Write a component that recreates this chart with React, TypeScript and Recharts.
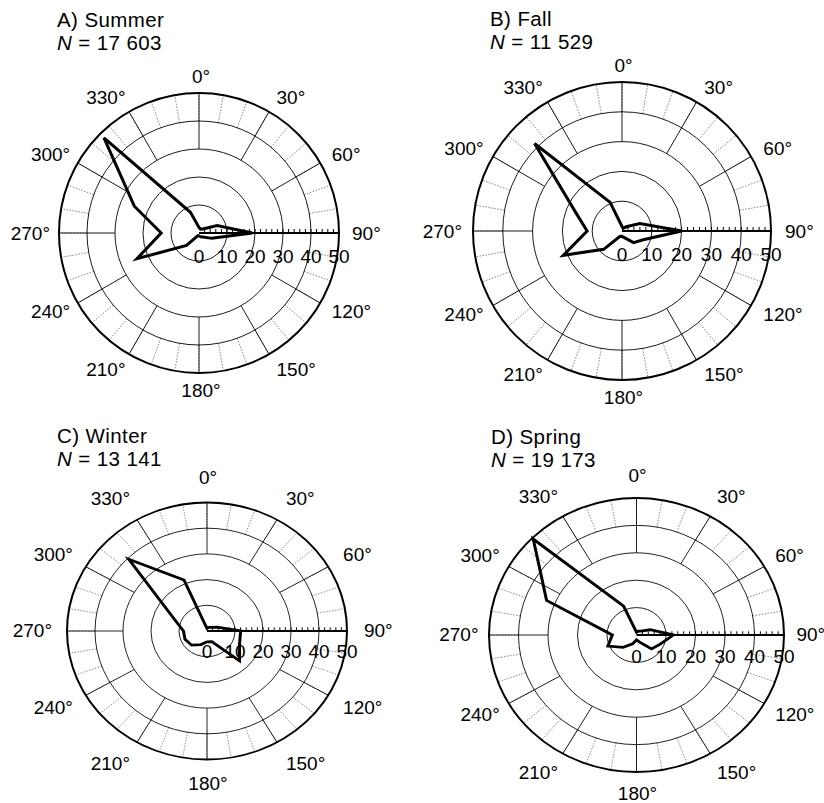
import React from 'react';
import { RadarChart, Radar, PolarGrid, PolarAngleAxis, PolarRadiusAxis } from 'recharts';

const W = 824;
const H = 803;
const CH = 920; // drawing surface height, taller than the page so squeezed panels keep their bottom labels
const FONT = '"Liberation Sans", Arial, Helvetica, sans-serif';
const FS = 19;
const TITLE_FS = 20.5;
const CAP = 0.716 * FS;

// 16 compass sectors, clockwise from north
const directions = ['N', 'NNE', 'NE', 'ENE', 'E', 'ESE', 'SE', 'SSE', 'S', 'SSW', 'SW', 'WSW', 'W', 'WNW', 'NW', 'NNW'];

// Frequency (%) per sector
const summerFreq = [2, 1.5, 2, 7, 19, 5, 2, 1.5, 1, 1, 6.3, 24, 13.5, 25, 48, 8];
const fallFreq = [1.5, 1, 2, 6.5, 20, 7.7, 5.5, 2.5, 1.8, 2, 8.7, 21.3, 11.7, 17, 41.5, 10.4];
const winterFreq = [1, 1.5, 2, 3.9, 12, 12.6, 16.4, 4.5, 4.2, 5.7, 7.8, 8.5, 8.4, 12.9, 39.5, 21.5];
const springFreq = [1, 1.5, 2, 5, 12.5, 8.7, 7.2, 2.8, 1.8, 3.5, 6.4, 10.5, 8.2, 33, 49.5, 11.4];

const seasonTitles = ['A) Summer', 'B) Fall', 'C) Winter', 'D) Spring'];
const seasonCounts = ['17 603', '11 529', '13 141', '19 173'];
const seasonFreqs = [summerFreq, fallFreq, winterFreq, springFreq];

// Angle axis labels every 30 degrees, fine grid every 10 degrees
const compassLabels = ['0°', '30°', '60°', '90°', '120°', '150°', '180°', '210°', '240°', '270°', '300°', '330°'];
const fineBearings = [0, 10, 20, 30, 40, 50, 60, 70, 80, 90, 100, 110, 120, 130, 140, 150, 160, 170,
  180, 190, 200, 210, 220, 230, 240, 250, 260, 270, 280, 290, 300, 310, 320, 330, 340, 350];

// Radial scale
const radiusMax = 50;
const ringValues = [10, 20, 30, 40];
const radiusTicks = [0, 2, 4, 6, 8, 10, 12, 14, 16, 18, 20, 22, 24, 26, 28, 30, 32, 34, 36, 38, 40, 42, 44, 46, 48, 50];

// Panel placement
const layouts = [
  { cx: 199, cy: 233, r: 140, sy: 1, gx: 11, gy: 10, ox: 2, tx: 57, ty: 27 },
  { cx: 622, cy: 231, r: 149, sy: 1, gx: 12.5, gy: 10, ox: 1.5, tx: 490, ty: 26 },
  { cx: 207, cy: 631, r: 140, sy: 0.918, gx: 16, gy: 20, ox: 1, tx: 57, ty: 443 },
  { cx: 636.5, cy: 635, r: 147.5, sy: 0.929, gx: 11.5, gy: 17, ox: 1, tx: 491, ty: 444 },
];

const NO_MARGIN = { top: 0, right: 0, bottom: 0, left: 0 };

const labelRows = compassLabels.map((label) => ({ label, zero: 0 }));
const fineRows = fineBearings.map((bearing) => ({ bearing, zero: 0 }));

type Layout = typeof layouts[number];

const makeAngleTick = (p: Layout) => (props: any) => {
  const { x, y, payload } = props;
  const dx = x - p.cx;
  const dy = y - p.cy;
  const len = Math.hypot(dx, dy) || 1;
  const ux = dx / len;
  const uy = dy / len;
  const ax = p.cx + p.ox + ux * (p.r + p.gx);
  const ay = p.cy + uy * (p.r + p.gy);
  const anchor = ux > 0.1 ? 'start' : ux < -0.1 ? 'end' : 'middle';
  const centerY = ay + (uy * CAP) / 2;
  return (
    <text x={ax} y={centerY + CAP / 2} textAnchor={anchor} fontSize={FS} fontFamily={FONT} fill="#000">
      {payload.value}
    </text>
  );
};

const RadiusTick = (props: any) => {
  const { x, y, payload } = props;
  const v = payload.value;
  return (
    <g>
      {v > 0 && v < radiusMax && <line x1={x} y1={y} x2={x} y2={y - 4} stroke="#000" strokeWidth={1} />}
      {v % 10 === 0 && (
        <text x={x} y={y + 23 + CAP / 2} textAnchor="middle" fontSize={FS} fontFamily={FONT} fill="#000">
          {v}
        </text>
      )}
    </g>
  );
};

const Layer = ({ children }: { children: React.ReactNode }) => (
  <div style={{ position: 'absolute', left: 0, top: 0, width: W, height: CH }}>{children}</div>
);

const RosePanel = ({ freq, p }: { freq: number[]; p: Layout }) => {
  const rows = directions.map((dir, i) => ({ dir, value: freq[i] }));
  const ringRadii = ringValues.map((v) => (p.r * v) / radiusMax);
  return (
    <div
      style={{
        position: 'absolute',
        left: 0,
        top: 0,
        width: W,
        height: CH,
        transform: `scaleY(${p.sy})`,
        transformOrigin: `0px ${p.cy}px`,
      }}
    >
      {/* 10-degree dotted ticks between the 40 and 50 rings */}
      <Layer>
        <RadarChart width={W} height={CH} cx={p.cx} cy={p.cy} innerRadius={p.r * 0.8} outerRadius={p.r} data={fineRows} margin={NO_MARGIN}>
          <PolarGrid gridType="circle" polarRadius={[]} stroke="#666" strokeWidth={0.8} strokeDasharray="1.5 1.5" />
          <PolarAngleAxis dataKey="bearing" tick={false} axisLine={false} tickLine={false} />
          <PolarRadiusAxis domain={[0, 1]} tick={false} axisLine={false} />
          <Radar dataKey="zero" stroke="none" fill="none" dot={false} isAnimationActive={false} />
        </RadarChart>
      </Layer>
      {/* 30-degree spokes between the 30 and 50 rings */}
      <Layer>
        <RadarChart width={W} height={CH} cx={p.cx} cy={p.cy} innerRadius={p.r * 0.6} outerRadius={p.r} data={labelRows} margin={NO_MARGIN}>
          <PolarGrid gridType="circle" polarRadius={[]} stroke="#000" strokeWidth={0.9} />
          <PolarAngleAxis dataKey="label" tick={false} axisLine={false} tickLine={false} />
          <PolarRadiusAxis domain={[0, 1]} tick={false} axisLine={false} />
          <Radar dataKey="zero" stroke="none" fill="none" dot={false} isAnimationActive={false} />
        </RadarChart>
      </Layer>
      {/* rings, radial scale and the rose itself */}
      <Layer>
        <RadarChart width={W} height={CH} cx={p.cx} cy={p.cy} innerRadius={0} outerRadius={p.r} data={rows} margin={NO_MARGIN}>
          <PolarGrid gridType="circle" radialLines={false} polarRadius={ringRadii} stroke="#000" strokeWidth={0.9} />
          <PolarGrid gridType="circle" radialLines={false} polarRadius={[p.r]} stroke="#000" strokeWidth={2} />
          <PolarAngleAxis dataKey="dir" tick={false} axisLine={false} tickLine={false} />
          <PolarRadiusAxis
            angle={0}
            domain={[0, radiusMax]}
            ticks={radiusTicks as any}
            tick={RadiusTick}
            stroke="#000"
            axisLine={{ stroke: '#000', strokeWidth: 2 }}
          />
          <Radar
            dataKey="value"
            stroke="#000"
            strokeWidth={3}
            fill="none"
            fillOpacity={0}
            dot={false}
            isAnimationActive={false}
          />
        </RadarChart>
      </Layer>
      {/* compass labels */}
      <Layer>
        <RadarChart width={W} height={CH} cx={p.cx} cy={p.cy} innerRadius={0} outerRadius={p.r} data={labelRows} margin={NO_MARGIN}>
          <PolarAngleAxis dataKey="label" tick={makeAngleTick(p)} axisLine={false} tickLine={false} />
          <PolarRadiusAxis domain={[0, 1]} tick={false} axisLine={false} />
          <Radar dataKey="zero" stroke="none" fill="none" dot={false} isAnimationActive={false} />
        </RadarChart>
      </Layer>
    </div>
  );
};

export default function App() {
  return (
    <div style={{ position: 'absolute', left: 0, top: 0, width: W, height: H, background: '#fff', overflow: 'hidden' }}>
      {layouts.map((p, i) => (
        <RosePanel key={i} freq={seasonFreqs[i]} p={p} />
      ))}
      <svg width={W} height={H} style={{ position: 'absolute', left: 0, top: 0 }}>
        {layouts.map((p, i) => (
          <g key={i} fontFamily={FONT} fontSize={TITLE_FS} fill="#000" letterSpacing={0.4}>
            <text x={p.tx} y={p.ty}>{seasonTitles[i]}</text>
            <text x={p.tx} y={p.ty + 23}>
              <tspan fontStyle="italic">N</tspan>
              {' = ' + seasonCounts[i]}
            </text>
          </g>
        ))}
      </svg>
    </div>
  );
}
